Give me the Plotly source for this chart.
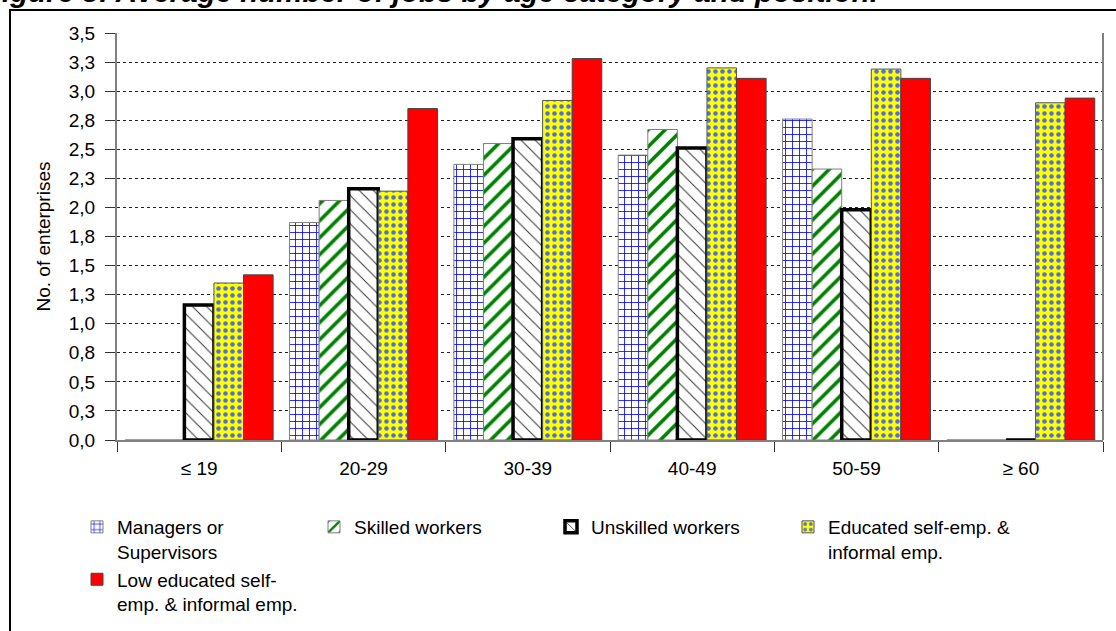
import plotly.graph_objects as go

categories = ["≤ 19", "20-29", "30-39", "40-49", "50-59", "≥ 60"]
managers = [0, 1.87, 2.37, 2.45, 2.76, 0]
skilled = [0, 2.06, 2.55, 2.67, 2.33, 0]
unskilled = [1.16, 2.16, 2.59, 2.51, 1.98, 0]
educated = [1.35, 2.14, 2.92, 3.20, 3.19, 2.90]
low_educated = [1.42, 2.85, 3.28, 3.11, 3.11, 2.94]

series_names = [
    "Managers or<br>Supervisors",
    "Skilled workers",
    "Unskilled workers",
    "Educated self-emp. &<br>informal emp.",
    "Low educated self-<br>emp. & informal emp.",
]

y_tickvals = [0, 0.25, 0.5, 0.75, 1.0, 1.25, 1.5, 1.75, 2.0, 2.25, 2.5, 2.75, 3.0, 3.25, 3.5]
y_ticktext = ["0,0", "0,3", "0,5", "0,8", "1,0", "1,3", "1,5", "1,8", "2,0", "2,3", "2,5", "2,8", "3,0", "3,3", "3,5"]

FONT = "Liberation Sans, Arial, sans-serif"
W, H = 1116, 631
ML, MR, MT, MB = 117, 13, 33, 191
PW = W - ML - MR
PH = H - MT - MB


def px_x(px):
    return (px - ML) / PW


def px_y(py):
    return (H - MB - py) / PH


fig = go.Figure()

fig.add_trace(go.Bar(
    x=categories, y=managers, name=series_names[0],
    marker=dict(color="white",
                pattern=dict(shape="+", fgcolor="#0000ff", bgcolor="white", size=7, solidity=0.22, fillmode="replace"),
                line=dict(color="#7f7f7f", width=1)),
))
fig.add_trace(go.Bar(
    x=categories, y=skilled, name=series_names[1],
    marker=dict(color="white",
                pattern=dict(shape="/", fgcolor="#008000", bgcolor="white", size=12, solidity=0.3, fillmode="replace"),
                line=dict(color="#7f7f7f", width=1)),
))
fig.add_trace(go.Bar(
    x=categories, y=unskilled, name=series_names[2],
    marker=dict(color="white",
                pattern=dict(shape="\\", fgcolor="#333333", bgcolor="white", size=10, solidity=0.1, fillmode="replace"),
                line=dict(color="black", width=3.5)),
))
fig.add_trace(go.Bar(
    x=categories, y=educated, name=series_names[3],
    marker=dict(color="#ffff00",
                pattern=dict(shape=".", fgcolor="#4f6fe0", bgcolor="#ffff00", size=7, solidity=0.33, fillmode="replace"),
                line=dict(color="#555555", width=1)),
))
fig.add_trace(go.Bar(
    x=categories, y=low_educated, name=series_names[4],
    marker=dict(color="#ff0000", line=dict(color="#444444", width=1)),
))

fig.update_layout(
    width=W, height=H,
    margin=dict(l=ML, r=MR, t=MT, b=MB, autoexpand=False),
    paper_bgcolor="white", plot_bgcolor="white",
    font=dict(family=FONT, size=19, color="black"),
    barmode="group", bargap=0.1, bargroupgap=0,
    showlegend=True,
    legend=dict(
        orientation="h", x=px_x(77), y=px_y(508), xanchor="left", yanchor="top",
        entrywidth=192, entrywidthmode="pixels", valign="top",
        font=dict(family=FONT, size=19, color="black"),
        traceorder="normal", itemclick=False, bgcolor="rgba(0,0,0,0)",
    ),
    xaxis=dict(
        type="category", showgrid=False, showline=True, linecolor="#808080", linewidth=2,
        ticks="outside", tickson="boundaries", ticklen=10, tickcolor="#333333", tickwidth=1,
        ticklabelstandoff=10, tickfont=dict(family=FONT, size=19, color="black"),
        zeroline=False,
    ),
    yaxis=dict(
        range=[0, 3.5], tickmode="array", tickvals=y_tickvals, ticktext=y_ticktext,
        showgrid=True, gridcolor="#222222", gridwidth=1, griddash="dot",
        showline=True, linecolor="#808080", linewidth=2,
        ticks="outside", ticklen=10, tickcolor="#333333", tickwidth=1,
        ticklabelstandoff=6, tickfont=dict(family=FONT, size=19, color="black"),
        zeroline=False,
        title=dict(text="No. of enterprises", font=dict(family=FONT, size=19, color="black"), standoff=13),
    ),
    shapes=[
        dict(type="line", xref="paper", yref="paper", x0=1, x1=1, y0=0, y1=1,
             line=dict(color="#808080", width=2)),
        dict(type="rect", xref="paper", yref="paper", x0=px_x(10), x1=px_x(1130), y0=px_y(650), y1=px_y(10),
             line=dict(color="black", width=2), layer="below"),
    ],
    annotations=[
        dict(text="<b><i>Figure 3: Average number of jobs by age category and position.</i></b>",
             xref="paper", yref="paper", x=px_x(880), y=px_y(10), xanchor="right", yanchor="bottom",
             showarrow=False, font=dict(family=FONT, size=29.5, color="black")),
    ],
)

fig.write_html("out.html", config={"displayModeBar": False},
               post_script="document.body.style.margin='0';")
